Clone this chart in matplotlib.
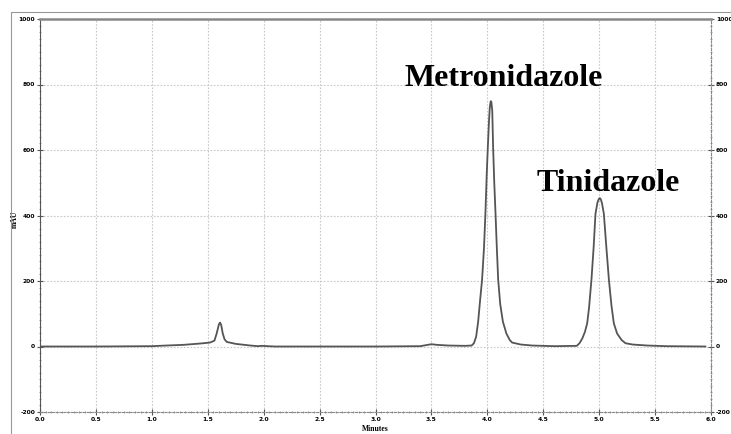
import matplotlib
matplotlib.use("Agg")
import matplotlib.pyplot as plt
from matplotlib.ticker import MultipleLocator, FormatStrFormatter
from matplotlib.patches import Rectangle

# Chromatogram trace (minutes, mAU)
time_min = [0.00, 0.50, 1.00, 1.13, 1.28, 1.43, 1.52, 1.56, 1.58, 1.60, 1.61, 1.62,
            1.634, 1.65, 1.67, 1.75, 1.88, 1.95, 1.98, 2.10, 2.50, 3.00, 3.40, 3.45,
            3.50, 3.55, 3.65, 3.80, 3.86, 3.88, 3.90, 3.918, 3.935, 3.953, 3.97, 3.983,
            3.995, 4.004, 4.015, 4.022, 4.030, 4.036, 4.044, 4.052, 4.062, 4.073, 4.085,
            4.097, 4.115, 4.139, 4.17, 4.20, 4.222, 4.30, 4.40, 4.60, 4.80, 4.824, 4.85,
            4.873, 4.893, 4.91, 4.931, 4.95, 4.967, 4.985, 4.998, 5.006, 5.014, 5.025,
            5.042, 5.065, 5.087, 5.11, 5.131, 5.16, 5.20, 5.235, 5.30, 5.43, 5.60, 5.95]
absorbance_mau = [0, 0, 1, 3, 5, 9, 12, 18, 40, 68, 73, 66,
                  40, 22, 14, 8, 3, 1, 2, 0, 0, 0, 1, 4,
                  7, 5, 3, 2, 3, 10, 30, 76, 140, 204, 300, 408,
                  530, 605, 690, 730, 749, 747, 720, 605, 500, 408, 300,
                  204, 130, 76, 40, 20, 12, 6, 3, 1, 2, 10, 25,
                  45, 71, 120, 204, 300, 405, 440, 451, 453, 450, 438,
                  405, 300, 204, 125, 71, 40, 20, 10, 6, 3, 1, 0]

peak_labels = ["Metronidazole", "Tinidazole"]
peak_label_pos = [(4.15, 795), (5.08, 475)]

fig = plt.figure(figsize=(7.31, 4.34), dpi=100)
fig.patch.set_facecolor("white")
ax = fig.add_axes([40/731, 1-412/434, (711-40)/731, (412-19)/434])

ax.plot(time_min, absorbance_mau, color="#555555", lw=1.3)

ax.set_xlim(0, 6)
ax.set_ylim(-200, 1000)
ax.xaxis.set_major_locator(MultipleLocator(0.5))
ax.xaxis.set_minor_locator(MultipleLocator(0.05))
ax.yaxis.set_major_locator(MultipleLocator(200))
ax.yaxis.set_minor_locator(MultipleLocator(20))
ax.xaxis.set_major_formatter(FormatStrFormatter("%.1f"))
ax.yaxis.set_major_formatter(FormatStrFormatter("%d"))

ax.grid(True, which="major", color="#c8c8c8", linestyle=(0, (1.5, 1.5)), lw=0.8)
ax.tick_params(which="major", direction="inout", length=4, width=0.8, color="#555555",
               labelsize=4.3, pad=1.5, labelright=True, right=True)
ax.tick_params(which="minor", direction="inout", length=2, width=0.5, color="#777777",
               right=True)
for lab in ax.get_xticklabels():
    lab.set_fontweight("bold")
for t in ax.yaxis.get_major_ticks():
    t.label1.set_fontweight("bold")
    t.label2.set_fontweight("bold")

ax.spines["top"].set_color("#888888")
ax.spines["left"].set_color("#555555")
ax.spines["right"].set_color("#888888")
ax.spines["right"].set_linestyle((0, (2, 1.5)))
ax.spines["bottom"].set_color("#888888")
ax.spines["bottom"].set_linestyle((0, (2, 1.5)))
for s in ax.spines.values():
    s.set_linewidth(0.8)
ax.spines["top"].set_linewidth(1.8)

ax.set_ylabel("mAU", fontsize=5.5, family="Liberation Serif", fontweight="bold")
ax.yaxis.set_label_coords(-0.032, 0.49)
ax.set_xlabel("Minutes", fontsize=5.5, family="Liberation Serif", fontweight="bold", labelpad=2)

for name, (x, y) in zip(peak_labels, peak_label_pos):
    ax.text(x, y, name, family="Liberation Serif", fontweight="bold", fontsize=23,
            ha="center", va="baseline", color="black")

fig.add_artist(Rectangle((11/731, -0.01), 1.0, 1-12/434 + 0.01, transform=fig.transFigure,
                         fill=False, edgecolor="#999999", lw=0.8))

fig.savefig("out.png", dpi=100)
